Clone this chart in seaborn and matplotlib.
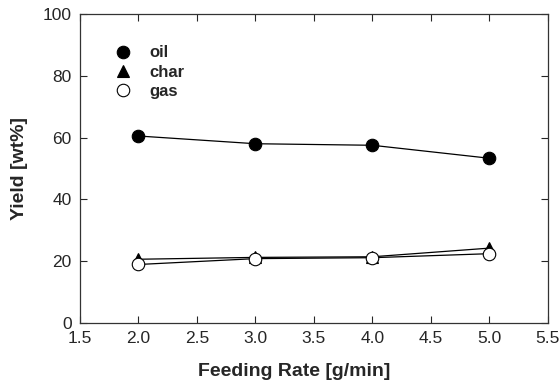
import matplotlib
matplotlib.use("Agg")
import matplotlib.pyplot as plt
import seaborn as sns
import pandas as pd

feed_rate = [2.0, 3.0, 4.0, 5.0]
oil = [60.5, 58.0, 57.5, 53.3]
char = [20.6, 21.2, 21.4, 24.2]
gas = [18.9, 20.8, 21.1, 22.4]
x_ticks = [1.5, 2.0, 2.5, 3.0, 3.5, 4.0, 4.5, 5.0, 5.5]
y_ticks = [0, 20, 40, 60, 80, 100]

sns.set_style("ticks")
plt.rcParams['font.family'] = ['Liberation Sans', 'DejaVu Sans']

df = pd.DataFrame({
    "Feeding Rate": feed_rate * 3,
    "Yield": oil + char + gas,
    "Product": ["oil"] * 4 + ["char"] * 4 + ["gas"] * 4,
})

fig = plt.figure(figsize=(5.59, 3.89), dpi=100)
ax = fig.add_axes([0.143, 0.170, 0.837, 0.794])

styles = {
    "oil": dict(marker="o", markerfacecolor="black", markersize=9),
    "char": dict(marker="^", markerfacecolor="black", markersize=9),
    "gas": dict(marker="o", markerfacecolor="white", markersize=9),
}
for name in ["oil", "char", "gas"]:
    sub = df[df["Product"] == name]
    sns.lineplot(data=sub, x="Feeding Rate", y="Yield", ax=ax, color="black",
                 linewidth=0.9, markeredgecolor="black", markeredgewidth=0.8,
                 label=name, **styles[name])

ax.set_xlim(1.5, 5.5)
ax.set_ylim(0, 100)
ax.set_xticks(x_ticks)
ax.set_xticklabels([f"{v:.1f}" for v in x_ticks])
ax.set_yticks(y_ticks)
ax.tick_params(direction="in", top=True, right=True, length=5, width=0.8,
               labelsize=12.5, pad=6)
for s in ax.spines.values():
    s.set_linewidth(0.9)
    s.set_color("#333333")

ax.set_xlabel("Feeding Rate [g/min]", fontsize=14, fontweight="bold")
ax.xaxis.set_label_coords(0.458, -0.13)
ax.set_ylabel("Yield [wt%]", fontsize=14, fontweight="bold")
ax.yaxis.set_label_coords(-0.11, 0.5)

leg = ax.legend(loc="upper left", bbox_to_anchor=(0.06, 0.947), frameon=False,
                handlelength=0, handletextpad=1.6, labelspacing=0.25,
                prop={"weight": "bold", "size": 12})
for h in leg.legend_handles:
    h.set_linestyle("None")

fig.savefig("out.png", dpi=100)
